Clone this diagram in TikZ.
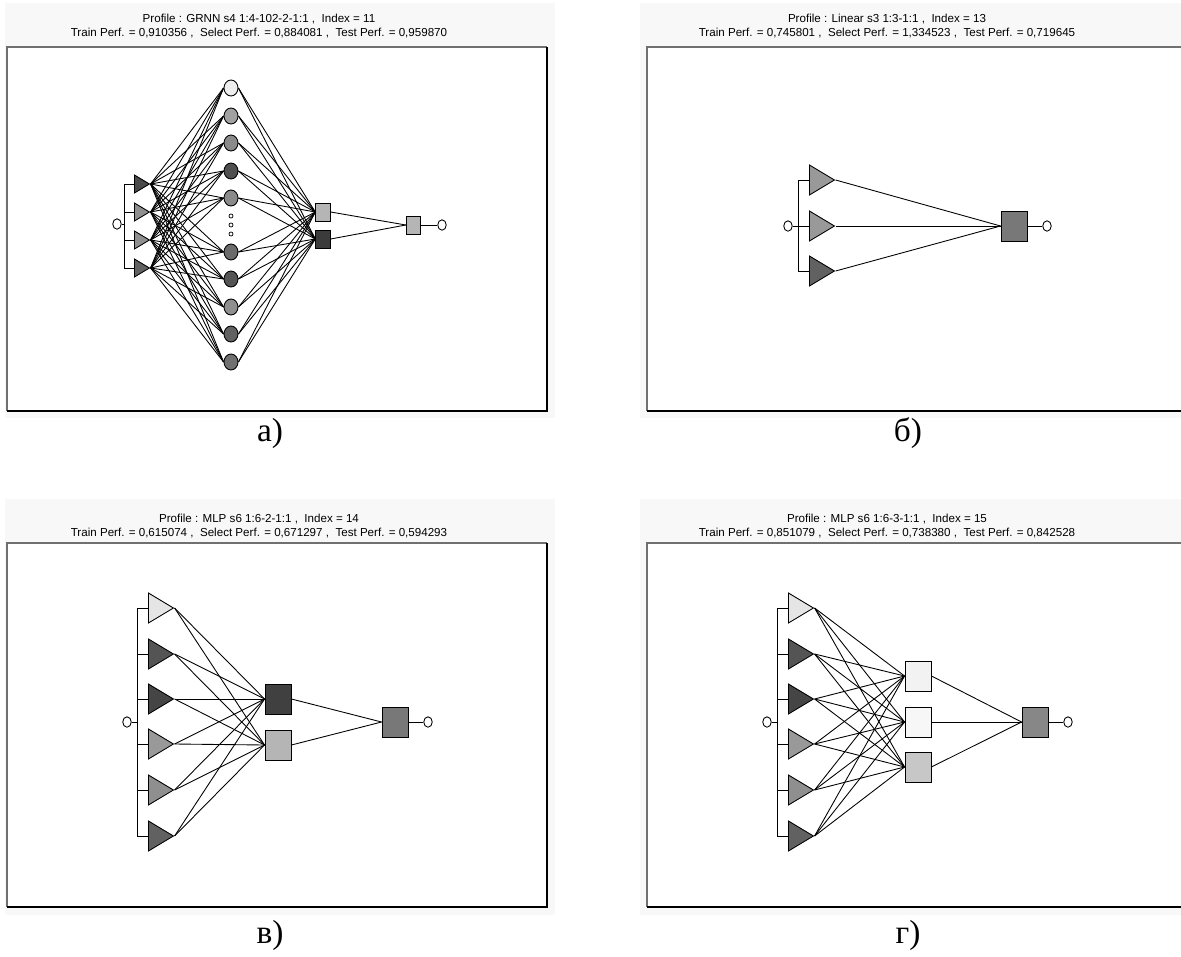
\documentclass[tikz,border=0pt]{standalone}
\usepackage{fontspec}
\setmainfont{Liberation Serif}
\newfontfamily\arialfont{Liberation Sans}
\usetikzlibrary{shapes.geometric}
\definecolor{panelbg}{HTML}{F8F8F8}
\definecolor{frameedge}{HTML}{707070}

\begin{document}
\begin{tikzpicture}[x=0.02cm, y=-0.02cm,
  unit/.style={draw, line width=0.5pt, fill=#1, inner sep=0pt},
  tri/.style={unit=#1, isosceles triangle, isosceles triangle stretches, anchor=west, minimum width=0.6cm, minimum height=0.5cm},
  trismall/.style={tri=#1, minimum width=0.36cm, minimum height=0.3cm},
  sq/.style={unit=#1, rectangle, minimum width=0.52cm, minimum height=0.6cm},
  sqsmall/.style={sq=#1, minimum width=0.29cm, minimum height=0.36cm},
  hid/.style={unit=#1, ellipse, minimum width=0.28cm, minimum height=0.32cm},
  io/.style={draw, line width=0.5pt, fill=white, ellipse, inner sep=0pt, minimum width=0.17cm, minimum height=0.21cm},
  dot/.style={draw, line width=0.4pt, circle, inner sep=0pt, minimum size=0.08cm},
  link/.style={line width=0.5pt},
  framelo/.style={frameedge, line width=1.2pt},
  framehi/.style={black, line width=0.9pt},
  title/.style={font=\arialfont\fontsize{6.6}{8}\selectfont, anchor=base},
  caption/.style={font=\fontsize{19}{22}\selectfont}
]
\useasboundingbox (0,0) rectangle (1181,957);

% panel backgrounds and frames
\fill[panelbg] (5,3) rectangle (555,418);
\fill[panelbg] (640,3) rectangle (1181,418);
\fill[panelbg] (5,499) rectangle (555,915);
\fill[panelbg] (640,499) rectangle (1181,915);
\foreach \xl/\xr/\yt/\yb in {7/547/47/411, 647/1182/47/411, 7/547/543/907, 647/1182/543/907} {
  \fill[white] (\xl,\yt) rectangle (\xr,\yb);
  \draw[framelo] (\xl,\yb) -- (\xl,\yt) -- (\xr,\yt);
  \draw[framehi] (\xr,\yt) -- (\xr,\yb) -- (\xl,\yb);
}

% titles
\node[title] (ta1) at (259,22.7) {Profile : GRNN s4 1:4-102-2-1:1 ,\ \ Index = 11};
\node[title] (ta2) at (259,36.7) {Train Perf. = 0,910356 ,\ \ Select Perf. = 0,884081 ,\ \ Test Perf. = 0,959870};
\node[title] (tb1) at (887,22.7) {Profile : Linear s3 1:3-1:1 ,\ \ Index = 13};
\node[title] (tb2) at (887,36.7) {Train Perf. = 0,745801 ,\ \ Select Perf. = 1,334523 ,\ \ Test Perf. = 0,719645};
\node[title] (tc1) at (259,522.7) {Profile : MLP s6 1:6-2-1:1 ,\ \ Index = 14};
\node[title] (tc2) at (259,536.7) {Train Perf. = 0,615074 ,\ \ Select Perf. = 0,671297 ,\ \ Test Perf. = 0,594293};
\node[title] (td1) at (887,522.7) {Profile : MLP s6 1:6-3-1:1 ,\ \ Index = 15};
\node[title] (td2) at (887,536.7) {Train Perf. = 0,851079 ,\ \ Select Perf. = 0,738380 ,\ \ Test Perf. = 0,842528};

% captions
\node[caption] (capa) at (270,433) {а)};
\node[caption] (capb) at (908,433) {б)};
\node[caption] (capc) at (270,935) {в)};
\node[caption] (capd) at (908,935) {г)};

% ---- panel a: GRNN ----
\node[io] (a-in) at (117,224) {};
\coordinate (a-br) at (124,224);
\foreach \y/\c [count=\i] in {184/black!71, 212/black!44, 240/black!44, 268/black!62}
  \node[trismall=\c] (a-t\i) at (134,\y) {};
\foreach \y/\c [count=\j] in {88/black!7, 116/black!37, 143/black!46, 171/black!69, 198/black!46,
                              252/black!58, 279/black!67, 307/black!44, 334/black!62, 362/black!56}
  \node[hid=\c] (a-h\j) at (231,\y) {};
\foreach \y [count=\k] in {216,225,234} \node[dot] (a-d\k) at (231,\y) {};
\node[sqsmall=black!29] (a-s1) at (323,212) {};
\node[sqsmall=black!77] (a-s2) at (323,239) {};
\node[sqsmall=black!29] (a-o) at (413.5,225) {};
\node[io] (a-out) at (442,225) {};
\draw[link] (a-in) -- (a-br);
\draw[link] (a-br |- a-t1.west) -- (a-br |- a-t4.west);
\foreach \i in {1,...,4} {
  \draw[link] (a-br |- a-t\i.west) -- (a-t\i.west);
  \foreach \j in {1,...,10} \draw[link] (a-t\i.apex) -- (a-h\j.west);
}
\foreach \j in {1,...,10} {\draw[link] (a-h\j.east) -- (a-s1.west); \draw[link] (a-h\j.east) -- (a-s2.west);}
\draw[link] (a-s1.east) -- (a-o.west);
\draw[link] (a-s2.east) -- (a-o.west);
\draw[link] (a-o) -- (a-out);

% ---- panel b: Linear ----
\node[io] (b-in) at (788,226) {};
\coordinate (b-br) at (798,226);
\foreach \y/\c [count=\i] in {180/black!40, 226/black!40, 271/black!62}
  \node[tri=\c] (b-t\i) at (809,\y) {};
\node[sq=black!53] (b-o) at (1014,226) {};
\node[io] (b-out) at (1047,226) {};
\draw[link] (b-in) -- (b-t2.west);
\draw[link] (b-br |- b-t1.west) -- (b-br |- b-t3.west);
\foreach \i in {1,2,3} {
  \draw[link] (b-br |- b-t\i.west) -- (b-t\i.west);
  \draw[link] (b-t\i.apex) -- (b-o.west);
}
\draw[link] (b-o) -- (b-out);

% ---- panel c: MLP 1:6-2-1:1 ----
\node[io] (c-in) at (127,722) {};
\coordinate (c-br) at (137,722);
\foreach \y/\c [count=\i] in {608/black!10, 654/black!67, 699/black!73, 744/black!40, 790/black!44, 836/black!62}
  \node[tri=\c] (c-t\i) at (148,\y) {};
\node[sq=black!75] (c-h1) at (278,699) {};
\node[sq=black!29] (c-h2) at (278,745) {};
\node[sq=black!53] (c-o) at (395,722) {};
\node[io] (c-out) at (428,722) {};
\draw[link] (c-in) -- (c-br);
\draw[link] (c-br |- c-t1.west) -- (c-br |- c-t6.west);
\foreach \i in {1,...,6} {
  \draw[link] (c-br |- c-t\i.west) -- (c-t\i.west);
  \foreach \j in {1,2} \draw[link] (c-t\i.apex) -- (c-h\j.west);
}
\foreach \j in {1,2} \draw[link] (c-h\j.east) -- (c-o.west);
\draw[link] (c-o) -- (c-out);

% ---- panel d: MLP 1:6-3-1:1 ----
\node[io] (d-in) at (767,722) {};
\coordinate (d-br) at (777,722);
\foreach \y/\c [count=\i] in {608/black!10, 654/black!67, 699/black!73, 744/black!40, 790/black!44, 836/black!62}
  \node[tri=\c] (d-t\i) at (788,\y) {};
\foreach \y/\c [count=\j] in {676/black!5, 722/black!3, 767/black!22}
  \node[sq=\c] (d-h\j) at (918,\y) {};
\node[sq=black!47] (d-o) at (1035,722) {};
\node[io] (d-out) at (1068,722) {};
\draw[link] (d-in) -- (d-br);
\draw[link] (d-br |- d-t1.west) -- (d-br |- d-t6.west);
\foreach \i in {1,...,6} {
  \draw[link] (d-br |- d-t\i.west) -- (d-t\i.west);
  \foreach \j in {1,2,3} \draw[link] (d-t\i.apex) -- (d-h\j.west);
}
\foreach \j in {1,2,3} \draw[link] (d-h\j.east) -- (d-o.west);
\draw[link] (d-o) -- (d-out);
\end{tikzpicture}
\end{document}
